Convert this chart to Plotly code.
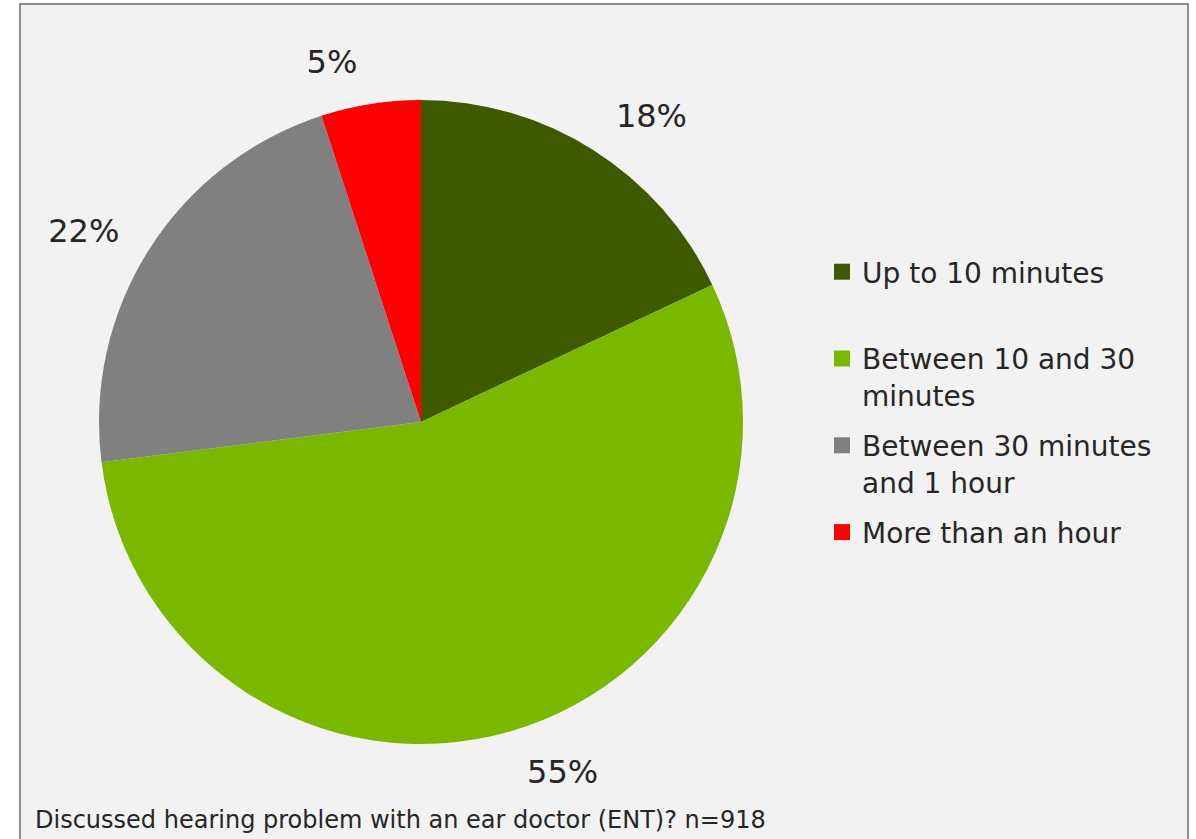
import plotly.graph_objects as go

categories = ["Up to 10 minutes", "Between 10 and 30<br>minutes", "Between 30 minutes<br>and 1 hour", "More than an hour"]
values = [18, 55, 22, 5]
colors = ["#3d5a00", "#7ab800", "#808080", "#ff0000"]
footer = "Discussed hearing problem with an ear doctor (ENT)? n=918"

W, H = 1196, 839
cx, cy, r = 421, 422, 322
r_lab = 346
FONT = "Verdana, DejaVu Sans, sans-serif"

def dom(rad):
    return dict(x=[(cx - rad) / W, (cx + rad) / W], y=[1 - (cy + rad) / H, 1 - (cy - rad) / H])

fig = go.Figure()
fig.add_trace(go.Pie(
    labels=categories,
    values=values,
    marker=dict(colors=colors, line=dict(width=0)),
    sort=False,
    direction="clockwise",
    rotation=0,
    textinfo="none",
    domain=dom(r),
    hovertemplate="%{label}: %{value}%<extra></extra>",
    showlegend=False,
))
# transparent companion pie that carries the outside labels a bit further out
fig.add_trace(go.Pie(
    labels=categories,
    values=values,
    marker=dict(colors=["rgba(0,0,0,0)"] * len(values), line=dict(width=0)),
    sort=False,
    direction="clockwise",
    rotation=0,
    texttemplate="%{value}%",
    textposition="outside",
    outsidetextfont=dict(family=FONT, size=32, color="#262626"),
    domain=dom(r_lab),
    hoverinfo="skip",
    showlegend=False,
))

# legend entries (one per slice, equal-height slots)
for i, (cat, col) in enumerate(zip(categories, colors)):
    name = cat if "<br>" in cat else cat + "<br> "
    fig.add_trace(go.Scatter(
        x=[None], y=[None], mode="markers", name=name,
        marker=dict(symbol="square", size=16, color=col),
        legendgroup=f"g{i}", showlegend=True, hoverinfo="skip",
    ))

fig.add_shape(type="rect", xref="paper", yref="paper",
              x0=20 / W, x1=1188 / W, y0=-0.05, y1=1 - 4 / H,
              fillcolor="#f2f2f2", line=dict(color="#8c8c8c", width=2), layer="below")

fig.add_annotation(text=footer, xref="paper", yref="paper", x=33 / W, y=1 - 836 / H,
                   xanchor="left", yanchor="bottom", showarrow=False,
                   font=dict(family=FONT, size=24, color="#262626"))

fig.update_layout(
    width=W, height=H,
    margin=dict(l=0, r=0, t=0, b=0),
    paper_bgcolor="white",
    plot_bgcolor="rgba(0,0,0,0)",
    xaxis=dict(visible=False),
    yaxis=dict(visible=False),
    font=dict(family=FONT, color="#262626"),
    legend=dict(x=822 / W, y=1 - 247 / H, xanchor="left", yanchor="top",
                font=dict(size=28, color="#262626"), bgcolor="rgba(0,0,0,0)",
                tracegroupgap=11, valign="top", itemclick=False, itemdoubleclick=False),
)

fig.write_html("out.html", config={"displayModeBar": False},
               post_script="document.body.style.margin='0px';")
